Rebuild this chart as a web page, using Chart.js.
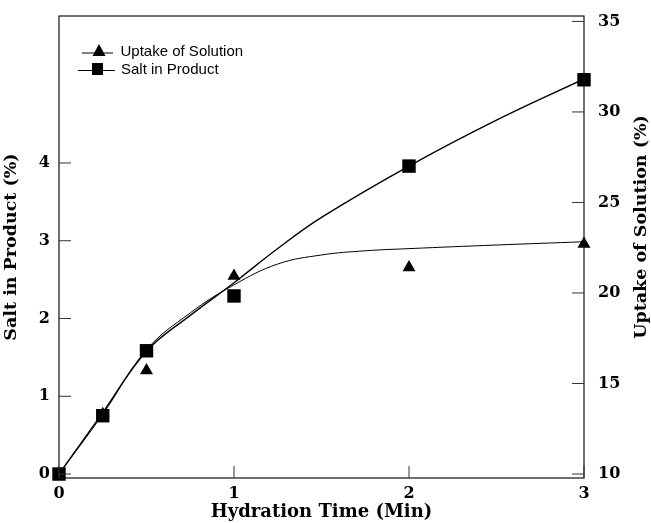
<!DOCTYPE html>
<html><head><meta charset="utf-8">
<script src="https://cdn.jsdelivr.net/npm/chart.js@4"></script>
<style>html,body{margin:0;padding:0;background:#fff}</style>
</head><body>
<canvas id="c" width="651" height="523"></canvas>
<script>
// ---- data ----
const xTicks = [0, 1, 2, 3];
const saltTicks = [0, 1, 2, 3, 4];
const uptakeTicks = [10, 15, 20, 25, 30, 35];

const timeMeas   = [0, 0.25, 0.5, 1, 2, 3];
const saltMeas   = [0, 0.75, 1.585, 2.29, 3.96, 5.07];
const uptakeMeas = [10, 13.3, 15.72, 20.94, 21.41, 22.71];

const timeSaltFit = [0, 0.25, 0.5, 0.75, 1, 1.25, 1.5, 2, 2.5, 3];
const saltFit     = [0, 0.79, 1.58, 2.04, 2.46, 2.9, 3.3, 3.96, 4.55, 5.08];
const timeUptakeFit = [0, 0.25, 0.5, 0.75, 1, 1.25, 1.5, 1.75, 2, 2.5, 3];
const uptakeFit     = [10, 13.3, 16.86, 18.9, 20.45, 21.6, 22.1, 22.33, 22.45, 22.65, 22.83];

const xTitle = 'Hydration Time (Min)';
const leftTitle = 'Salt in Product (%)';
const rightTitle = 'Uptake of Solution (%)';

const pts = (xs, ys) => xs.map((x, i) => ({x, y: ys[i]}));
const serifBold = (s) => ({family: '"DejaVu Serif", serif', size: s, weight: 'bold'});
const noPad = s => { s.paddingTop = 0; s.paddingBottom = 0; s.paddingLeft = 0; s.paddingRight = 0; };

const framePlugin = {
  id: 'frame',
  afterDatasetsDraw(chart) {
    const {ctx, chartArea: ca, scales} = chart;
    ctx.save();
    ctx.strokeStyle = '#111';
    ctx.lineWidth = 1.2;
    ctx.strokeRect(ca.left, ca.top, ca.right - ca.left, ca.bottom - ca.top);
    ctx.lineWidth = 1;
    ctx.strokeStyle = '#333';
    ctx.beginPath();
    xTicks.forEach(v => { const p = scales.x.getPixelForValue(v); ctx.moveTo(p, ca.bottom); ctx.lineTo(p, ca.bottom - 12); });
    saltTicks.forEach(v => { const p = scales.yL.getPixelForValue(v); ctx.moveTo(ca.left, p); ctx.lineTo(ca.left + 12, p); });
    uptakeTicks.forEach(v => { const p = scales.yR.getPixelForValue(v); ctx.moveTo(ca.right, p); ctx.lineTo(ca.right - 12, p); });
    ctx.stroke();
    ctx.restore();
  },
  afterDraw(chart) {
    const {ctx} = chart;
    const ds = chart.data.datasets;
    ctx.save();
    ctx.fillStyle = '#000';
    ctx.font = 'bold 17.5px "DejaVu Serif", serif';
    ctx.textAlign = 'center';
    ctx.textBaseline = 'middle';
    ctx.translate(641, 227);
    ctx.rotate(-Math.PI / 2);
    ctx.fillText(rightTitle, 0, 0);
    ctx.restore();

    // legend
    ctx.save();
    ctx.strokeStyle = '#000';
    ctx.fillStyle = '#000';
    ctx.lineWidth = 1.1;
    ctx.beginPath();
    ctx.moveTo(82, 53); ctx.lineTo(113, 53);
    ctx.moveTo(78, 70.5); ctx.lineTo(115, 70.5);
    ctx.stroke();
    ctx.beginPath();
    ctx.moveTo(99, 44); ctx.lineTo(105.5, 56); ctx.lineTo(92.5, 56); ctx.closePath();
    ctx.fill();
    ctx.fillRect(92, 63, 11, 12);
    ctx.font = '15px "Liberation Sans", Arial, sans-serif';
    ctx.textAlign = 'left';
    ctx.textBaseline = 'middle';
    ctx.fillText(ds[2].label, 120.5, 51.5);
    ctx.fillText(ds[3].label, 121, 69.5);
    ctx.restore();
  }
};

new Chart(document.getElementById('c'), {
  type: 'scatter',
  data: {
    datasets: [
      {label: 'Salt fit', data: pts(timeSaltFit, saltFit), yAxisID: 'yL', showLine: true,
       borderColor: '#000', borderWidth: 1.4, pointRadius: 0, tension: 0.4, order: 3},
      {label: 'Uptake fit', data: pts(timeUptakeFit, uptakeFit), yAxisID: 'yR', showLine: true,
       borderColor: '#000', borderWidth: 1, pointRadius: 0, tension: 0.4, order: 4},
      {label: 'Uptake of Solution', data: pts(timeMeas, uptakeMeas), yAxisID: 'yR', showLine: false,
       pointStyle: 'triangle', pointRadius: 7.5, backgroundColor: '#000', borderColor: '#000', borderWidth: 0, clip: false, order: 2},
      {label: 'Salt in Product', data: pts(timeMeas, saltMeas), yAxisID: 'yL', showLine: false,
       pointStyle: 'rect', pointRadius: 9.5, backgroundColor: '#000', borderColor: '#000', borderWidth: 0, clip: false, order: 1}
    ]
  },
  options: {
    responsive: false,
    animation: false,
    devicePixelRatio: 1,
    layout: {padding: {top: 16, left: 0, right: 0, bottom: 0}},
    plugins: {legend: {display: false}, tooltip: {enabled: false}},
    scales: {
      x: {
        type: 'linear', position: 'bottom', min: 0, max: 3,
        afterBuildTicks: s => { s.ticks = xTicks.map(v => ({value: v})); },
        afterFit: s => { s.height = 45; noPad(s); },
        grid: {display: false, drawTicks: false},
        border: {display: false},
        ticks: {font: serifBold(16), color: '#000', padding: 6, maxRotation: 0},
        title: {display: true, text: xTitle, font: serifBold(18), color: '#000', padding: {top: 0, bottom: 0}}
      },
      yL: {
        type: 'linear', position: 'left', min: -0.051, max: 5.89,
        afterBuildTicks: s => { s.ticks = saltTicks.map(v => ({value: v})); },
        afterFit: s => { s.width = 59; noPad(s); },
        grid: {display: false, drawTicks: false},
        border: {display: false},
        ticks: {font: serifBold(16), color: '#000', padding: 9},
        title: {display: true, text: leftTitle, font: serifBold(17.5), color: '#000', padding: {top: 1, bottom: 0}}
      },
      yR: {
        type: 'linear', position: 'right', min: 9.78, max: 35.3,
        afterBuildTicks: s => { s.ticks = uptakeTicks.map(v => ({value: v})); },
        afterFit: s => { s.width = 67; noPad(s); },
        grid: {display: false, drawTicks: false},
        border: {display: false},
        ticks: {font: serifBold(16), color: '#000', padding: 14},
        title: {display: false}
      }
    }
  },
  plugins: [framePlugin]
});
</script>
</body></html>
